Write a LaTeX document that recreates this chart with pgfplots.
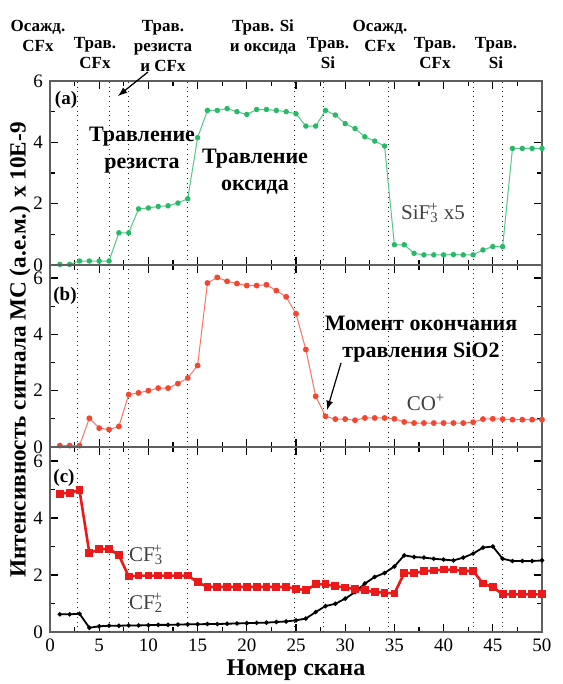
\documentclass[border=0pt]{standalone}
\usepackage{fontspec}
\setmainfont{Liberation Serif}
\usepackage{pgfplots}
\pgfplotsset{compat=1.18}

\definecolor{sigreen}{RGB}{40,185,105}
\definecolor{cored}{RGB}{245,70,50}
\definecolor{cfred}{RGB}{235,25,25}
\definecolor{framegray}{RGB}{95,95,95}

\pgfplotsset{
  panel/.style={
    scale only axis, width=246pt, xmin=0, xmax=50, anchor=south west,
    axis line style={framegray, line width=1pt},
    tick style={black, line width=0.6pt}, tick align=inside,
    major tick length=4pt, minor tick length=2.5pt,
    xtick={0,5,...,50}, minor x tick num=1,
    ytick={0,2,4,6}, minor ytick={1,3,5},
    ticklabel style={font=\fontsize{9.5}{10}\selectfont},
    /pgf/number format/assume math mode=true,
    extra x ticks={2.8,6,8,14,24.8,27.8,34.4,43,46},
    extra x tick labels={},
    extra x tick style={grid=major, major tick length=0pt,
      major grid style={black!85, dotted, line width=0.5pt}},
  },
}
\tikzset{
  lab/.style={font=\bfseries\fontsize{11}{13.5}\selectfont, align=center},
  phase/.style={font=\bfseries\fontsize{8.5}{10}\selectfont, align=center, anchor=north},
  ion/.style={font=\fontsize{10.5}{11}\selectfont, text=black!75},
}

\begin{document}
\begin{tikzpicture}
\useasboundingbox (0,0) rectangle (281pt,342pt);

% (a) SiF3+ x5
\begin{axis}[panel, at={(25pt,209.5pt)}, height=92pt, ymin=0, ymax=6, xticklabels={}]
\addplot[sigreen!80, line width=0.5pt, mark=*, mark size=1.1pt, mark options={fill=sigreen, draw=sigreen}]
coordinates {(1,0.02)(2,0.02)(3,0.13)(4,0.13)(5,0.13)(6,0.13)(7,1.05)(8,1.05)(9,1.83)(10,1.86)
(11,1.91)(12,1.93)(13,2.02)(14,2.16)(15,4.15)(16,5.04)(17,5.04)(18,5.10)(19,5.00)(20,4.91)
(21,5.07)(22,5.07)(23,5.04)(24,5.00)(25,4.93)(26,4.53)(27,4.53)(28,5.04)(29,4.89)(30,4.61)
(31,4.45)(32,4.18)(33,4.04)(34,3.88)(35,0.66)(36,0.66)(37,0.38)(38,0.33)(39,0.33)(40,0.33)
(41,0.34)(42,0.33)(43,0.33)(44,0.49)(45,0.60)(46,0.60)(47,3.80)(48,3.80)(49,3.80)(50,3.80)};
\end{axis}

% (b) CO+
\begin{axis}[panel, at={(25pt,118.5pt)}, height=91pt, ymin=0, ymax=6.46, xticklabels={}]
\addplot[cored!75, line width=0.5pt, mark=*, mark size=1.2pt, mark options={fill=cored, draw=cored}]
coordinates {(1,0.05)(2,0.05)(3,0.05)(4,1.02)(5,0.67)(6,0.62)(7,0.73)(8,1.86)(9,1.92)(10,2.00)
(11,2.09)(12,2.09)(13,2.25)(14,2.45)(15,2.89)(16,5.82)(17,6.02)(18,5.88)(19,5.80)(20,5.73)
(21,5.73)(22,5.76)(23,5.55)(24,5.33)(25,4.73)(26,3.46)(27,1.80)(28,1.09)(29,0.99)(30,0.99)
(31,0.95)(32,1.03)(33,1.03)(34,1.03)(35,1.00)(36,0.89)(37,0.85)(38,0.85)(39,0.85)(40,0.85)
(41,0.85)(42,0.85)(43,0.88)(44,0.99)(45,1.00)(46,0.99)(47,0.97)(48,0.97)(49,0.97)(50,0.97)};
\end{axis}

% (c) CF3+ and CF2+
\begin{axis}[panel, at={(25pt,26pt)}, height=92.5pt, ymin=0, ymax=6.49,
  xlabel={Номер скана}, xlabel style={font=\bfseries\fontsize{12}{12}\selectfont, yshift=3pt}]
\addplot[black, line width=0.9pt, mark=*, mark size=0.6pt]
coordinates {(1,0.62)(2,0.62)(3,0.64)(4,0.15)(5,0.20)(6,0.22)(7,0.22)(8,0.23)(9,0.23)(10,0.24)
(11,0.25)(12,0.25)(13,0.26)(14,0.27)(15,0.27)(16,0.28)(17,0.28)(18,0.29)(19,0.30)(20,0.31)
(21,0.32)(22,0.33)(23,0.35)(24,0.37)(25,0.41)(26,0.47)(27,0.70)(28,0.91)(29,0.99)(30,1.17)
(31,1.40)(32,1.70)(33,1.93)(34,2.07)(35,2.30)(36,2.69)(37,2.63)(38,2.61)(39,2.57)(40,2.54)
(41,2.51)(42,2.61)(43,2.75)(44,2.96)(45,3.00)(46,2.57)(47,2.49)(48,2.49)(49,2.49)(50,2.51)};
\addplot[cfred, line width=1.3pt, mark=square*, mark size=1.3pt]
coordinates {(1,4.85)(2,4.89)(3,4.97)(4,2.77)(5,2.90)(6,2.92)(7,2.69)(8,1.95)(9,1.98)(10,1.98)
(11,1.98)(12,1.98)(13,1.98)(14,1.98)(15,1.75)(16,1.58)(17,1.58)(18,1.58)(19,1.58)(20,1.58)
(21,1.58)(22,1.58)(23,1.58)(24,1.58)(25,1.52)(26,1.46)(27,1.67)(28,1.67)(29,1.61)(30,1.56)
(31,1.50)(32,1.46)(33,1.40)(34,1.38)(35,1.35)(36,2.07)(37,2.07)(38,2.13)(39,2.16)(40,2.19)
(41,2.19)(42,2.14)(43,2.14)(44,1.70)(45,1.58)(46,1.32)(47,1.32)(48,1.32)(49,1.32)(50,1.32)};
\end{axis}

% y label
\node[rotate=90, font=\bfseries\fontsize{11.6}{12}\selectfont] at (10pt,167pt)
  {Интенсивность сигнала МС (а.е.м.) x 10E-9};

% phase labels above the plot
\node[phase] at (19pt,335.5pt) {Осажд.\\CFx};
\node[phase] at (47.5pt,327pt) {Трав.\\CFx};
\node[phase] at (81.5pt,335.5pt) {Трав.\\резиста\\и CFx};
\node[phase] at (131.5pt,335.5pt) {Трав. Si\\и оксида};
\node[phase] at (164pt,327pt) {Трав.\\Si};
\node[phase] at (190pt,335.5pt) {Осажд.\\CFx};
\node[phase] at (217.5pt,327pt) {Трав.\\CFx};
\node[phase] at (248pt,327pt) {Трав.\\Si};

% panel tags
\node[font=\bfseries\fontsize{9.5}{10}\selectfont] at (33pt,292pt) {(a)};
\node[font=\bfseries\fontsize{9.5}{10}\selectfont] at (32.5pt,194pt) {(b)};
\node[font=\bfseries\fontsize{9.5}{10}\selectfont] at (32pt,103pt) {(c)};

% annotations
\node[lab] at (71pt,267pt) {Травление\\резиста};
\node[lab] at (127.5pt,256pt) {Травление\\оксида};
\node[lab] at (210.5pt,172.5pt) {Момент окончания\\травления SiO2};
\draw[-latex, line width=0.6pt] (74pt,306pt) -- (59pt,294pt);
\draw[-latex, line width=0.6pt] (170.5pt,160.5pt) -- (163.5pt,137pt);

% ion names, sub- and superscript stacked
\node[ion] at (216.5pt,235.5pt) {SiF\textsubscript{3}\kern-0.45em\textsuperscript{+}\kern0.25em x5};
\node[ion] at (213pt,141pt) {CO\textsuperscript{+}};
\node[ion] at (73pt,64.5pt) {CF\textsubscript{3}\kern-0.45em\textsuperscript{+}};
\node[ion] at (73pt,40.5pt) {CF\textsubscript{2}\kern-0.45em\textsuperscript{+}};
\end{tikzpicture}
\end{document}
